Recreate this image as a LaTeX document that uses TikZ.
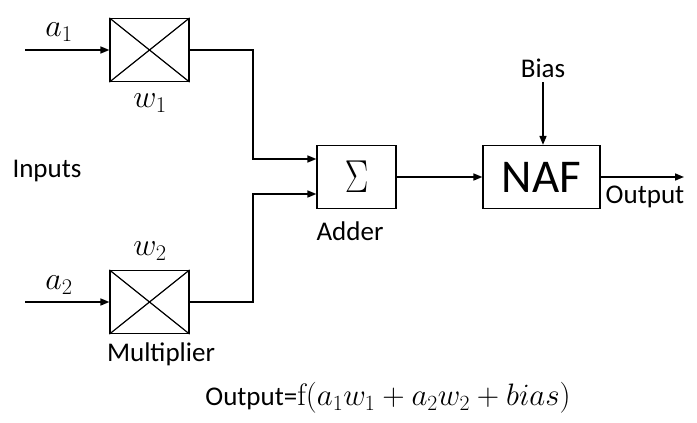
\RequirePackage{fix-cm}
\documentclass[tikz,border=0pt]{standalone}
\usepackage{fontspec}
\setmainfont{Carlito}
\newfontfamily\lmrfam{Latin Modern Roman}
\usetikzlibrary{arrows.meta}
\begin{document}
\begin{tikzpicture}[x=1pt,y=-1pt,
  line width=1.6pt,
  arr/.style={-{Stealth[length=9pt,width=7pt,inset=0pt]}},
  blk/.style={draw,line width=1.2pt,minimum width=79pt,minimum height=63pt,inner sep=0pt},
  lbl/.style={font=\fontsize{27}{30}\selectfont,inner sep=0pt},
  mlbl/.style={font=\fontsize{32}{34}\selectfont,inner sep=0pt}]
\useasboundingbox (0,0) rectangle (697,423);
% multipliers
\node[blk] (m1) at (149.5,50) {};
\draw[line width=1.2pt] (m1.north west) -- (m1.south east) (m1.north east) -- (m1.south west);
\node[blk] (m2) at (149.5,302) {};
\draw[line width=1.2pt] (m2.north west) -- (m2.south east) (m2.north east) -- (m2.south west);
% adder and NAF
\node[blk] (add) at (356.5,177) {\fontsize{44}{48}\selectfont\scalebox{0.8}[1.05]{$\Sigma$}};
\node[blk,minimum width=117pt] (naf) at (541.5,177) {\fontsize{47}{50}\selectfont NAF};
% input coordinates
\coordinate (in1) at (25,50);
\coordinate (in2) at (25,302);
\coordinate (bin) at (543,82);
\coordinate (out) at (684,177);
% connectors
\draw[arr] (in1) -- (m1.west);
\draw[arr] (in2) -- (m2.west);
\draw[arr] (m1.east) -- (253,50) -- (253,159) -- (add.west |- 0,159);
\draw[arr] (m2.east) -- (253,302) -- (253,194) -- (add.west |- 0,194);
\draw[arr] (add.east) -- (naf.west);
\draw[arr] (bin) -- (naf.north -| bin);
\draw[arr] (naf.east) -- (out);
% labels
\node[mlbl] (la1) at (59,32) {$a_1$};
\node[mlbl] (lw1) at (150,103) {$w_1$};
\node[mlbl] (lw2) at (150,251) {$w_2$};
\node[mlbl] (la2) at (59,285) {$a_2$};
\node[lbl] (linp) at (47,171) {Inputs};
\node[lbl] (lmul) at (161,354) {Multiplier};
\node[lbl] (ladd) at (350,231) {Adder};
\node[lbl] (lbias) at (543,68) {Bias};
\node[lbl] (lout) at (645,197) {Output};
\node[lbl] (lform) at (388,398) {Output={\fontsize{31}{34}\selectfont\lmrfam f$(a_1w_1+a_2w_2+bias)$}};
\end{tikzpicture}
\end{document}
